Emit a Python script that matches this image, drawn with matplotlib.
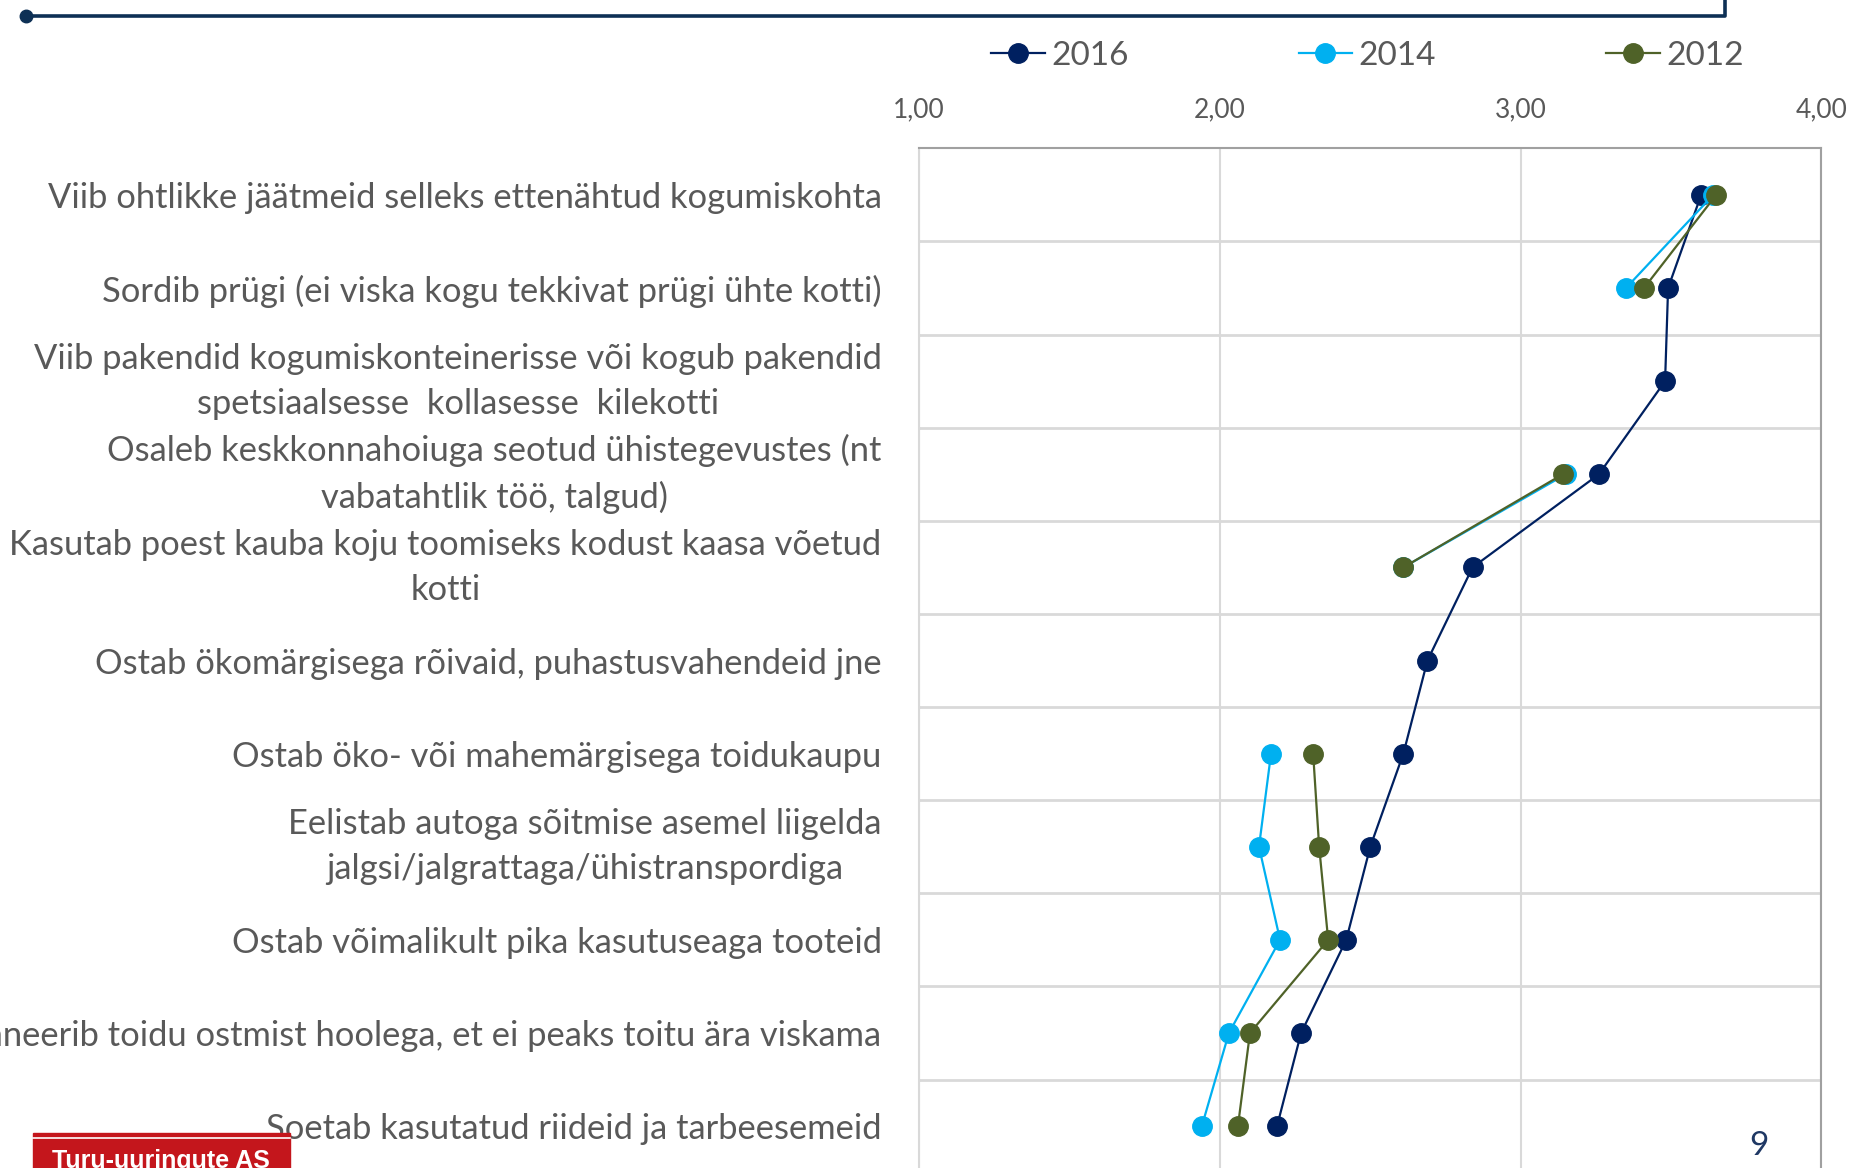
import numpy as np
import matplotlib
matplotlib.use("Agg")
import matplotlib.pyplot as plt
from matplotlib.lines import Line2D
from matplotlib.patches import Rectangle

plt.rcParams['font.family'] = ['Lato', 'DejaVu Sans']

categories = [
    "Viib ohtlikke jäätmeid selleks ettenähtud kogumiskohta",
    "Sordib prügi (ei viska kogu tekkivat prügi ühte kotti)",
    "Viib pakendid kogumiskonteinerisse või kogub pakendid\nspetsiaalsesse  kollasesse  kilekotti",
    "Osaleb keskkonnahoiuga seotud ühistegevustes (nt\nvabatahtlik töö, talgud)",
    "Kasutab poest kauba koju toomiseks kodust kaasa võetud\nkotti",
    "Ostab ökomärgisega rõivaid, puhastusvahendeid jne",
    "Ostab öko- või mahemärgisega toidukaupu",
    "Eelistab autoga sõitmise asemel liigelda\njalgsi/jalgrattaga/ühistranspordiga",
    "Ostab võimalikult pika kasutuseaga tooteid",
    "Planeerib toidu ostmist hoolega, et ei peaks toitu ära viskama",
    "Soetab kasutatud riideid ja tarbeesemeid",
]

nan = np.nan
y2016 = [3.60, 3.49, 3.48, 3.26, 2.84, 2.69, 2.61, 2.50, 2.42, 2.27, 2.19]
y2014 = [3.64, 3.35, nan, 3.15, 2.61, nan, 2.17, 2.13, 2.20, 2.03, 1.94]
y2012 = [3.65, 3.41, nan, 3.14, 2.61, nan, 2.31, 2.33, 2.36, 2.10, 2.06]

series = [("2016", y2016, "#002060"), ("2014", y2014, "#00b0f0"), ("2012", y2012, "#4f6228")]
xticks = [1, 2, 3, 4]
xtick_labels = ["1,00", "2,00", "3,00", "4,00"]

text_grey = "#595959"

fig = plt.figure(figsize=(18.53, 11.68), dpi=100)
ax = fig.add_axes([0.496, -0.004, 0.487, 0.877])

pos = np.arange(len(categories))
for name, vals, col in series:
    ax.plot(vals, pos, color=col, lw=1.6, marker="o", ms=14, label=name, zorder=3)

ax.set_xlim(1, 4)
ax.set_ylim(len(categories) - 0.5, -0.5)
ax.xaxis.tick_top()
ax.set_xticks(xticks)
ax.set_xticklabels(xtick_labels)
ax.set_yticks(pos)
ax.set_yticklabels(categories)
ax.set_yticks(pos[:-1] + 0.5, minor=True)
ax.tick_params(axis="x", length=0, pad=19, labelsize=19, labelcolor=text_grey)
ax.tick_params(axis="y", which="both", length=0, pad=27, labelsize=24.8, labelcolor=text_grey)
for t in ax.get_yticklabels():
    t.set_multialignment("center")
    t.set_linespacing(1.5)
    if "\n" in t.get_text():
        t.set_verticalalignment("center")

ax.grid(axis="x", color="#d9d9d9", lw=1.5)
ax.grid(axis="y", which="minor", color="#d9d9d9", lw=2)
ax.set_axisbelow(True)
for s in ["top", "right"]:
    ax.spines[s].set_color("#a0a0a0")
    ax.spines[s].set_linewidth(1.5)
ax.spines["left"].set_color("#d9d9d9")
ax.spines["left"].set_linewidth(1.5)
ax.spines["bottom"].set_visible(False)

leg = fig.legend(loc="center", bbox_to_anchor=(0.738, 0.952), ncol=3, frameon=False,
                 fontsize=24, handlelength=1.6, handletextpad=0.2, columnspacing=5.1,
                 labelcolor=text_grey)

# slide decorations
W, H = 1853, 1168
fig.add_artist(Line2D([26 / W, 1725 / W, 1725 / W], [1 - 15.5 / H, 1 - 15.5 / H, 1.0],
                      transform=fig.transFigure, color="#0d3055", lw=2.6))
fig.add_artist(Line2D([26 / W], [1 - 15.5 / H], transform=fig.transFigure, marker="o",
                      ms=9, color="#0d3055"))
fig.add_artist(Rectangle((33 / W, 0), 257 / W, 35 / H, transform=fig.transFigure,
                         color="#c4161c", zorder=5))
fig.add_artist(Line2D([33 / W, 290 / W], [1 - 1138 / H, 1 - 1138 / H],
                      transform=fig.transFigure, color="white", lw=1.2, zorder=6))
fig.text(161 / W, 1 - 1161 / H, "Turu-uuringute AS", color="white", fontsize=18,
         fontweight="bold", family=["Liberation Sans", "DejaVu Sans"],
         ha="center", va="center", zorder=7)
fig.text(1759 / W, 1 - 1146 / H, "9", color="#1f3864", fontsize=24, ha="center", va="center")

fig.savefig("out.png", dpi=100)
